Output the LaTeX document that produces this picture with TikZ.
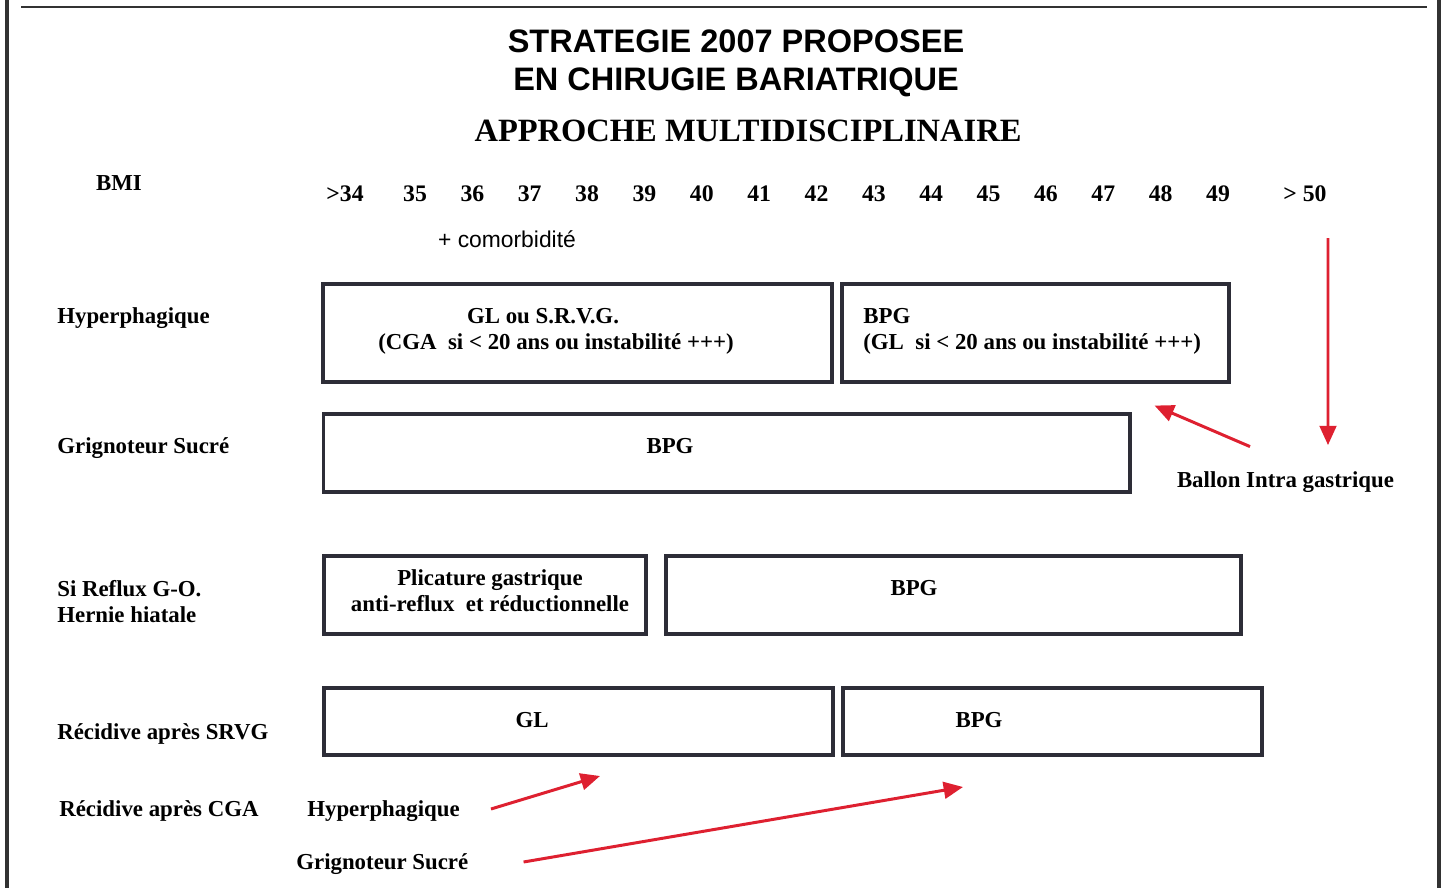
\documentclass[tikz,border=0pt]{standalone}
\usepackage{fontspec}
\setmainfont{Liberation Serif}
\setsansfont{Liberation Sans}
\usetikzlibrary{arrows.meta,positioning}

\definecolor{boxgrey}{RGB}{45,45,55}
\definecolor{framegrey}{RGB}{50,50,50}
\definecolor{arrowred}{RGB}{222,32,48}

\begin{document}
\begin{tikzpicture}
	[x = 0.02cm, y = -0.02cm, >= {Triangle[length=11pt,width=9.5pt]},
	 on grid, node distance = 0.52cm,
	 box/.style = {draw=boxgrey, line width=1.8pt, inner sep=0pt},
	 lbl/.style = {font=\fontsize{13}{15}\selectfont\bfseries, text height=8.6pt, text depth=0pt, inner sep=0pt},
	 num/.style = {font=\fontsize{13.5}{15}\selectfont\bfseries, text height=9pt, text depth=0pt, inner sep=0pt},
	 ttlsans/.style = {font=\fontsize{18.5}{22}\selectfont\sffamily\bfseries, text height=13.2pt, text depth=0pt, inner sep=0pt},
	 ttlserif/.style = {font=\fontsize{18.5}{22}\selectfont\bfseries, text height=12.2pt, text depth=0pt, inner sep=0pt},
	 redarrow/.style = {->, draw=arrowred, fill=arrowred, line width=1.7pt}]

\useasboundingbox (0,0) rectangle (1448,888);

% frame
\draw[framegrey, line width=2pt] (7,0) -- (7,888);
\draw[framegrey, line width=1.2pt] (21,7) -- (1427,7);
\draw[framegrey, line width=2pt] (1439,0) -- (1439,888);

% titles
\node[ttlsans] (title1) at (736,41) {STRATEGIE 2007 PROPOSEE};
\node[ttlsans] (title2) [below = 0.76cm of title1] {EN CHIRUGIE BARIATRIQUE};
\node[ttlserif] (title3) at (748,131) {APPROCHE MULTIDISCIPLINAIRE};

% BMI scale
\node[lbl] (bmi) at (119,183) {BMI};
\node[num] (gt34) at (345,194) {>34};
\foreach \n in {35,...,49}
	\node[num] (bmi\n) at ({415+(\n-35)*57.36},194) {\n};
\node[num] (gt50) at (1305,194) {> 50};
\node[font=\fontsize{13}{15}\selectfont\sffamily, inner sep=0pt, text height=9.3pt, text depth=0pt] (comorb) at (507,239) {+ comorbidité};

% row labels
\node[lbl, anchor=west] (rHyp) at (57,316) {Hyperphagique};
\node[lbl, anchor=west] (rGri) at (57,446) {Grignoteur Sucré};
\node[lbl, anchor=west] (rRef) at (57,589) {Si Reflux G-O.};
\node[lbl, below = of rRef.west, anchor=west] (rHer) {Hernie hiatale};
\node[lbl, anchor=west] (rSrv) at (57,732) {Récidive après SRVG};
\node[lbl, anchor=west] (rCga) at (59,809) {Récidive après CGA};

% boxes
\node[box, minimum width=10.18cm, minimum height=1.96cm] (hypGL) at (577.5,333) {};
\node[box, minimum width=7.74cm, minimum height=1.96cm] (hypBPG) at (1035.5,333) {};
\node[box, minimum width=16.14cm, minimum height=1.56cm] (griBPG) at (726.5,453) {};
\node[box, minimum width=6.44cm, minimum height=1.56cm] (refPli) at (485,595) {};
\node[box, minimum width=11.5cm, minimum height=1.56cm] (refBPG) at (953.5,595) {};
\node[box, minimum width=10.18cm, minimum height=1.34cm] (srvGL) at (578.5,721.5) {};
\node[box, minimum width=8.38cm, minimum height=1.34cm] (srvBPG) at (1052.5,721.5) {};

% box texts
\node[lbl] (hypGL1) at (543,316) {GL ou S.R.V.G.};
\node[lbl] (hypGL2) at (556,342) {(CGA\ \ si < 20 ans ou instabilité +++)};
\node[lbl, anchor=west] (hypB1) at (863,316) {BPG};
\node[lbl, below = of hypB1.west, anchor=west] (hypB2) {(GL\ \ si < 20 ans ou instabilité +++)};
\node[lbl] (griB) at (670,446) {BPG};
\node[lbl] (refP1) at (490,578) {Plicature gastrique};
\node[lbl] (refP2) [below = of refP1] {anti-reflux\ \ et réductionnelle};
\node[lbl] (refB) at (914,588) {BPG};
\node[lbl] (srvG) at (532,720) {GL};
\node[lbl] (srvB) at (979,720) {BPG};

% recidive apres CGA
\node[lbl, anchor=west] (cgaHyp) at (307,809) {Hyperphagique};
\node[lbl, anchor=west] (cgaGri) at (296,862) {Grignoteur Sucré};
\node[lbl] (ballon) at (1285.5,480) {Ballon Intra gastrique};

\coordinate (tipHyp) at (600,776);
\coordinate (tipGri) at (963,787);
\coordinate (tipBallon) at ([xshift=-1.52cm,yshift=-0.44cm]hypBPG.south east);

\draw[redarrow] ([xshift=0.62cm]cgaHyp.east) -- (tipHyp);
\draw[redarrow] ([xshift=1.1cm]cgaGri.east) -- (tipGri);
\draw[redarrow] ([xshift=-0.71cm,yshift=0.51cm]ballon.north) -- (tipBallon);
\draw[redarrow, shorten <=0.72cm, shorten >=0.54cm]
	([xshift=0.46cm]gt50.south) -- ([xshift=0.85cm]ballon.north);

\end{tikzpicture}
\end{document}
